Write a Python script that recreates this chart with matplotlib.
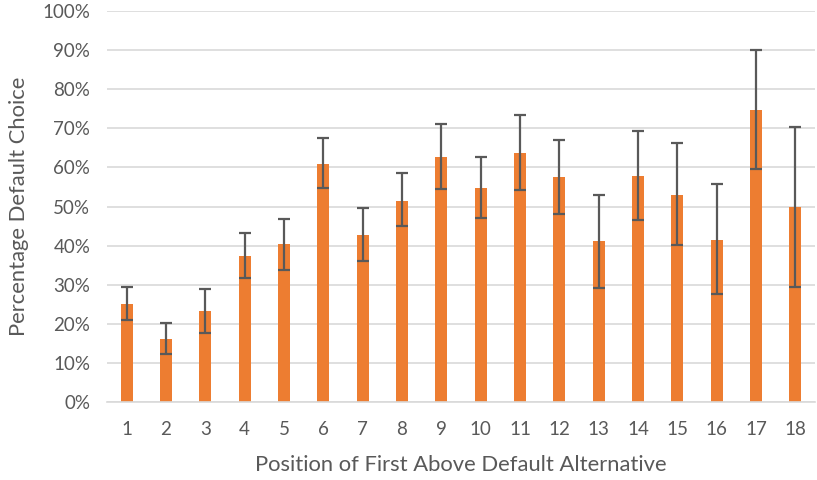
import matplotlib
matplotlib.use("Agg")
import matplotlib.pyplot as plt
from matplotlib.ticker import PercentFormatter
import numpy as np

plt.rcParams['font.family'] = ['Lato', 'DejaVu Sans']

# data (percent)
positions = [str(i) for i in range(1, 19)]
pct_default = [25.0, 16.0, 23.2, 37.3, 40.3, 61.0, 42.6, 51.5, 62.6,
               54.8, 63.8, 57.5, 41.1, 57.8, 53.0, 41.4, 74.8, 49.8]
err_upper = [29.3, 20.3, 28.9, 43.2, 46.8, 67.4, 49.5, 58.5, 71.1,
             62.7, 73.3, 67.0, 53.0, 69.2, 66.2, 55.8, 90.0, 70.3]
err_lower = [20.9, 12.2, 17.6, 31.6, 33.7, 54.8, 36.1, 44.9, 54.5,
             47.1, 54.2, 48.0, 29.2, 46.5, 40.2, 27.5, 59.6, 29.5]

text_col = '#595959'
orange = '#ED7D31'

x = np.arange(1, len(positions) + 1)
vals = np.array(pct_default)
yerr = [vals - np.array(err_lower), np.array(err_upper) - vals]

fig = plt.figure(figsize=(8.17, 4.8), dpi=100)
ax = fig.add_axes([0.131, 0.1625, 0.8665, 0.8145])

ax.bar(x, vals, width=0.3, color=orange, zorder=2)
ax.errorbar(x, vals, yerr=yerr, fmt='none', ecolor='#595959',
            elinewidth=1.6, capsize=4.5, capthick=1.6, zorder=3)

ax.set_xlim(0.5, 18.5)
ax.set_ylim(0, 100)
ax.set_yticks(np.arange(0, 101, 10))
ax.yaxis.set_major_formatter(PercentFormatter(decimals=0))
ax.set_xticks(x)
ax.set_xticklabels(positions)

ax.grid(axis='y', color='#D9D9D9', linewidth=1.2, zorder=0)
ax.set_axisbelow(True)
for s in ['top', 'right', 'left']:
    ax.spines[s].set_visible(False)
ax.spines['bottom'].set_color('#D9D9D9')
ax.spines['bottom'].set_linewidth(1.2)
ax.tick_params(axis='both', length=0, labelsize=13.5, colors=text_col)
ax.tick_params(axis='x', pad=14)
ax.tick_params(axis='y', pad=12)

ax.set_xlabel('Position of First Above Default Alternative', fontsize=15.8,
              color=text_col, labelpad=12)
ax.set_ylabel('Percentage Default Choice', fontsize=15.8, color=text_col,
              labelpad=10)

fig.savefig('out.png', dpi=100)
